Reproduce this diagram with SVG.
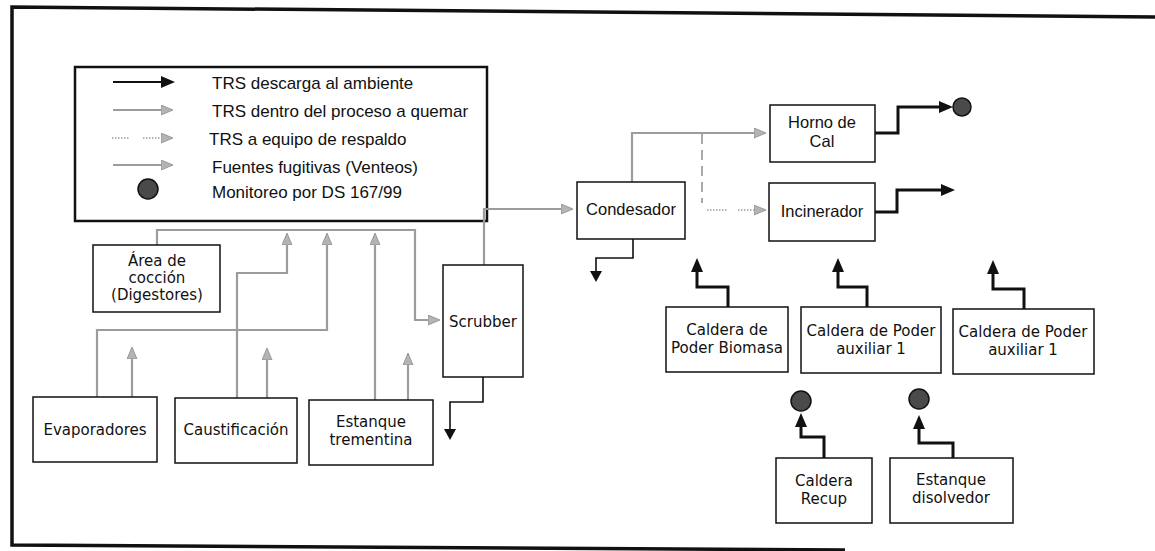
<svg xmlns="http://www.w3.org/2000/svg" width="1155" height="551" viewBox="0 0 1155 551">
<style>
.box{fill:#fff;stroke:#111;stroke-width:1.5}
.vt{font-family:"DejaVu Sans",Verdana,sans-serif;font-size:15px;fill:#111;text-anchor:middle}
.at{font-family:"Liberation Sans",Arial,sans-serif;font-size:16.5px;fill:#111;text-anchor:middle}
.lt{font-family:"Liberation Sans",Arial,sans-serif;font-size:17px;fill:#111}
.g{fill:none;stroke:#9c9c9c;stroke-width:2.2}
.gd{fill:none;stroke:#9c9c9c;stroke-width:1.6;stroke-dasharray:1.5 1.5}
.gdash{fill:none;stroke:#a8a8a8;stroke-width:2;stroke-dasharray:10 6}
.b{fill:none;stroke:#111;stroke-width:3}
.bt{fill:none;stroke:#111;stroke-width:1.6}
.dot{fill:#4a4a4a;stroke:#111;stroke-width:1.5}
</style>
<defs>
<marker id="ag" markerUnits="userSpaceOnUse" markerWidth="13" markerHeight="11" refX="9" refY="5" orient="auto"><path d="M0,0 L12,5 L0,10 z" fill="#b4b4b4" stroke="#8a8a8a" stroke-width="0.8"/></marker>
<marker id="ab" markerUnits="userSpaceOnUse" markerWidth="15" markerHeight="13" refX="10" refY="6" orient="auto"><path d="M0,0 L14,6 L0,12 z" fill="#111"/></marker>
<marker id="abs" markerUnits="userSpaceOnUse" markerWidth="13" markerHeight="13" refX="7" refY="6" orient="auto"><path d="M0,0 L11,6 L0,12 z" fill="#111"/></marker>
</defs>

<path d="M1155,17 L12,7 L12,545 L845,550" fill="none" stroke="#111" stroke-width="3.5"/>

<g id="legend">
<rect x="75" y="67" width="412" height="154" fill="#fff" stroke="#111" stroke-width="2.5"/>
<path d="M113,82 H171" class="b" style="stroke-width:2.2" marker-end="url(#ab)"/>
<text x="212" y="89" class="lt">TRS descarga al ambiente</text>
<path d="M113,110 H170" class="g" marker-end="url(#ag)"/>
<text x="212" y="117" class="lt">TRS dentro del proceso a quemar</text>
<path d="M112,138 H130" class="gd"/>
<path d="M143,138 H170" class="gd" marker-end="url(#ag)"/>
<text x="209" y="145" class="lt">TRS a equipo de respaldo</text>
<path d="M113,165 H170" class="g" marker-end="url(#ag)"/>
<text x="212" y="173" class="lt">Fuentes fugitivas (Venteos)</text>
<circle cx="148" cy="189" r="10" class="dot"/>
<text x="212" y="198" class="lt">Monitoreo por DS 167/99</text>
</g>

<g id="connectors">
<path d="M157,245 V230 H415 V320 H437" class="g" marker-end="url(#ag)"/>
<path d="M237,398 V273 H287 V236" class="g" marker-end="url(#ag)"/>
<path d="M97,397 V330 H327 V236" class="g" marker-end="url(#ag)"/>
<path d="M132,397 V350" class="g" marker-end="url(#ag)"/>
<path d="M267,398 V351" class="g" marker-end="url(#ag)"/>
<path d="M375,400 V236" class="g" marker-end="url(#ag)"/>
<path d="M408,400 V356" class="g" marker-end="url(#ag)"/>
<path d="M484,265 V209 H570" class="g" marker-end="url(#ag)"/>
<path d="M632,182 V133 H763" class="g" marker-end="url(#ag)"/>
<path d="M702,134 V203" class="gdash"/>
<path d="M707,210 H727" class="gd"/>
<path d="M738,210 H763" class="gd" marker-end="url(#ag)"/>
<path d="M483,377 V402 H450 V436" class="bt" marker-end="url(#abs)"/>
<path d="M633,239 V258 H596 V278" class="bt" marker-end="url(#abs)"/>
<path d="M875,133 H898 V107 H949" class="b" marker-end="url(#ab)"/>
<circle cx="962" cy="107" r="9" class="dot"/>
<path d="M875,212 H897 V190 H951" class="b" marker-end="url(#ab)"/>
<path d="M728,307 V287 H697 V262" class="b" marker-end="url(#ab)"/>
<path d="M867,307 V287 H838 V262" class="b" marker-end="url(#ab)"/>
<path d="M1024,309 V289 H993 V264" class="b" marker-end="url(#ab)"/>
<path d="M824,458 V437 H801 V417" class="b" marker-end="url(#ab)"/>
<circle cx="801" cy="401" r="10" class="dot"/>
<path d="M953,458 V443 H919 V419" class="b" marker-end="url(#ab)"/>
<circle cx="919" cy="399" r="10" class="dot"/>
</g>

<g id="area-coccion">
<rect x="93" y="245" width="127" height="67" class="box"/>
<text class="vt"><tspan x="157" y="266">Área de</tspan><tspan x="157" y="283">cocción</tspan><tspan x="157" y="300">(Digestores)</tspan></text>
</g>
<g id="evaporadores">
<rect x="33" y="397" width="124" height="65" class="box"/>
<text x="95" y="435" class="vt">Evaporadores</text>
</g>
<g id="caustificacion">
<rect x="175" y="398" width="122" height="65" class="box"/>
<text x="236" y="435" class="vt">Caustificación</text>
</g>
<g id="estanque-trementina">
<rect x="309" y="400" width="124" height="65" class="box"/>
<text class="vt"><tspan x="371" y="427">Estanque</tspan><tspan x="371" y="445">trementina</tspan></text>
</g>
<g id="scrubber">
<rect x="443" y="265" width="80" height="112" class="box"/>
<text x="483" y="327" class="vt">Scrubber</text>
</g>
<g id="condesador">
<rect x="577" y="182" width="108" height="57" class="box"/>
<text x="631" y="215" class="at">Condesador</text>
</g>
<g id="horno-cal">
<rect x="770" y="105" width="105" height="57" class="box"/>
<text class="at"><tspan x="822" y="128">Horno de</tspan><tspan x="822" y="147">Cal</tspan></text>
</g>
<g id="incinerador">
<rect x="769" y="183" width="106" height="58" class="box"/>
<text x="822" y="217" class="at">Incinerador</text>
</g>
<g id="caldera-biomasa">
<rect x="666" y="307" width="122" height="65" class="box"/>
<text class="vt"><tspan x="727" y="335">Caldera de</tspan><tspan x="727" y="353">Poder Biomasa</tspan></text>
</g>
<g id="caldera-aux1-a">
<rect x="801" y="307" width="140" height="66" class="box"/>
<text class="vt"><tspan x="871" y="336">Caldera de Poder</tspan><tspan x="871" y="354">auxiliar 1</tspan></text>
</g>
<g id="caldera-aux1-b">
<rect x="953" y="309" width="141" height="65" class="box"/>
<text class="vt"><tspan x="1023" y="337">Caldera de Poder</tspan><tspan x="1023" y="355">auxiliar 1</tspan></text>
</g>
<g id="caldera-recup">
<rect x="776" y="458" width="96" height="65" class="box"/>
<text class="vt"><tspan x="824" y="486">Caldera</tspan><tspan x="824" y="504">Recup</tspan></text>
</g>
<g id="estanque-disolvedor">
<rect x="890" y="458" width="123" height="65" class="box"/>
<text class="vt"><tspan x="951" y="485">Estanque</tspan><tspan x="951" y="503">disolvedor</tspan></text>
</g>
</svg>
